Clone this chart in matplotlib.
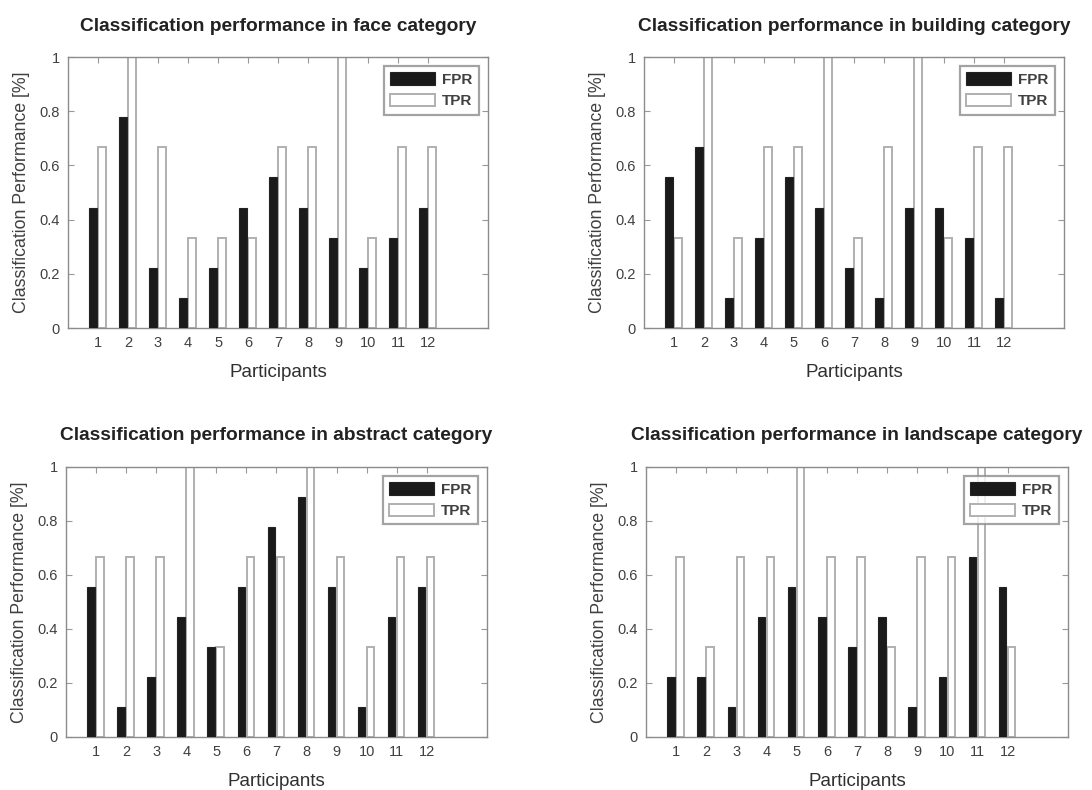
import numpy as np
import matplotlib.pyplot as plt

plt.rcParams['font.family'] = ['Liberation Sans', 'DejaVu Sans']

participants = list(range(1, 13))

# FPR en neuviemes, TPR en tiers
face_fpr = [4/9, 7/9, 2/9, 1/9, 2/9, 4/9, 5/9, 4/9, 3/9, 2/9, 3/9, 4/9]
face_tpr = [2/3, 1, 2/3, 1/3, 1/3, 1/3, 2/3, 2/3, 1, 1/3, 2/3, 2/3]

building_fpr = [5/9, 6/9, 1/9, 3/9, 5/9, 4/9, 2/9, 1/9, 4/9, 4/9, 3/9, 1/9]
building_tpr = [1/3, 1, 1/3, 2/3, 2/3, 1, 1/3, 2/3, 1, 1/3, 2/3, 2/3]

abstract_fpr = [5/9, 1/9, 2/9, 4/9, 3/9, 5/9, 7/9, 8/9, 5/9, 1/9, 4/9, 5/9]
abstract_tpr = [2/3, 2/3, 2/3, 1, 1/3, 2/3, 2/3, 1, 2/3, 1/3, 2/3, 2/3]

landscape_fpr = [2/9, 2/9, 1/9, 4/9, 5/9, 4/9, 3/9, 4/9, 1/9, 2/9, 6/9, 5/9]
landscape_tpr = [2/3, 1/3, 2/3, 2/3, 1, 2/3, 2/3, 1/3, 2/3, 2/3, 1, 1/3]

yticks = [0, 0.2, 0.4, 0.6, 0.8, 1]
ytick_labels = ['0', '0.2', '0.4', '0.6', '0.8', '1']


def panel(fig, rect, fpr, tpr, titre):
    ax = fig.add_axes(rect)
    x = np.array(participants)
    ax.bar(x - 0.17, fpr, width=0.25, color='#1a1a1a', edgecolor='#222222',
           linewidth=0.8, label='FPR', zorder=3)
    ax.bar(x + 0.13, tpr, width=0.25, color='white', edgecolor='#b0b0b0',
           linewidth=1.4, label='TPR', zorder=2)
    ax.set_xlim(0, 14)
    ax.set_ylim(0, 1)
    ax.set_xticks(participants)
    ax.set_yticks(yticks)
    ax.set_yticklabels(ytick_labels)
    ax.tick_params(direction='in', top=True, right=True, length=4,
                   color='#999999', labelcolor='#404040', labelsize=10.5, pad=6)
    for s in ax.spines.values():
        s.set_color('#8c8c8c')
        s.set_linewidth(1.0)
    ax.set_title(titre, fontsize=13.8, fontweight='bold', color='#222222', pad=19)
    ax.set_xlabel('Participants', fontsize=13.5, color='#303030', labelpad=10)
    ax.set_ylabel('Classification Performance [%]', fontsize=12.8, color='#404040',
                  labelpad=7)
    leg = ax.legend(loc='upper right', fancybox=False, edgecolor='#8c8c8c',
                    handlelength=2.9, handleheight=0.9, borderaxespad=0.6,
                    labelspacing=0.45, handletextpad=0.5,
                    prop={'weight': 'bold', 'size': 11})
    for t in leg.get_texts():
        t.set_color('#404040')
    leg.get_frame().set_linewidth(1.6)
    return ax


fig = plt.figure(figsize=(10.92, 7.9), dpi=100)

panel(fig, [0.0623, 0.5848, 0.3846, 0.343], face_fpr, face_tpr,
      'Classification performance in face category')
panel(fig, [0.5897, 0.5848, 0.3846, 0.343], building_fpr, building_tpr,
      'Classification performance in building category')
panel(fig, [0.0604, 0.0671, 0.3855, 0.342], abstract_fpr, abstract_tpr,
      'Classification performance in abstract category')
panel(fig, [0.5916, 0.0671, 0.3864, 0.342], landscape_fpr, landscape_tpr,
      'Classification performance in landscape category')

fig.savefig('out.png', dpi=100)
